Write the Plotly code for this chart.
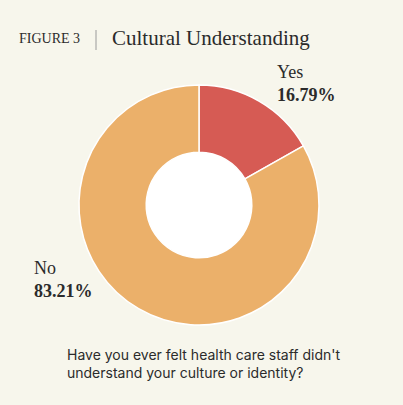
import plotly.graph_objects as go

labels = ["Yes", "No"]
values = [16.79, 83.21]
colors = ["#d65b54", "#ebb06a"]

HOLE = 0.44
cx, cy, r = 199, 205, 120  # donut centre and outer radius, px

fig = go.Figure()

# white disc behind the hole
hr = r * HOLE
fig.add_trace(go.Pie(
    values=[1], marker=dict(colors=["white"]), textinfo="none",
    hoverinfo="skip", showlegend=False, sort=False,
    domain=dict(x=[(cx - hr) / 403, (cx + hr) / 403],
                y=[1 - (cy + hr) / 405, 1 - (cy - hr) / 405]),
))

fig.add_trace(go.Pie(
    labels=labels,
    values=values,
    hole=HOLE,
    sort=False,
    direction="clockwise",
    rotation=0,
    marker=dict(colors=colors, line=dict(color="white", width=1.5)),
    textinfo="none",
    hoverinfo="label+percent",
    showlegend=False,
    domain=dict(x=[(cx - r) / 403, (cx + r) / 403],
                y=[1 - (cy + r) / 405, 1 - (cy - r) / 405]),
))

serif = "Liberation Serif, Times New Roman, serif"
ink = "#2b2b2b"

# slice labels
label_pos = {"Yes": (275, 60), "No": (32, 256)}
for lab, val in zip(labels, values):
    px_, py_ = label_pos[lab]
    fig.add_annotation(
        x=px_ / 403, y=1 - py_ / 405, xref="paper", yref="paper",
        xanchor="left", yanchor="top", align="left", showarrow=False,
        text=f"{lab}<br><b>{val:.2f}%</b>",
        font=dict(family=serif, size=18, color=ink),
    )

# header
fig.add_annotation(
    x=17 / 403, y=1 - 38 / 405, xref="paper", yref="paper",
    xanchor="left", yanchor="middle", showarrow=False,
    text="FIGURE 3", font=dict(family=serif, size=14, color=ink),
)
fig.add_annotation(
    x=110 / 403, y=1 - 38 / 405, xref="paper", yref="paper",
    xanchor="left", yanchor="middle", showarrow=False,
    text="Cultural Understanding", font=dict(family=serif, size=21, color=ink),
)
fig.add_shape(
    type="line", xref="paper", yref="paper",
    x0=96 / 403, x1=96 / 403, y0=1 - 30 / 405, y1=1 - 50 / 405,
    line=dict(color="#9a9a9a", width=1),
)

# question text
fig.add_annotation(
    x=65 / 403, y=1 - 344 / 405, xref="paper", yref="paper",
    xanchor="left", yanchor="top", align="left", showarrow=False,
    text="Have you ever felt health care staff didn't<br>understand your culture or identity?",
    font=dict(family="Inter, Roboto, sans-serif", size=14, color=ink),
)

fig.update_layout(
    width=403, height=405,
    margin=dict(l=0, r=0, t=0, b=0),
    paper_bgcolor="#f7f6ec",
    plot_bgcolor="#f7f6ec",
)

fig.write_html(
    "out.html",
    config={"displayModeBar": False},
    post_script="document.body.style.margin='0';document.body.style.background='#f7f6ec';",
)
